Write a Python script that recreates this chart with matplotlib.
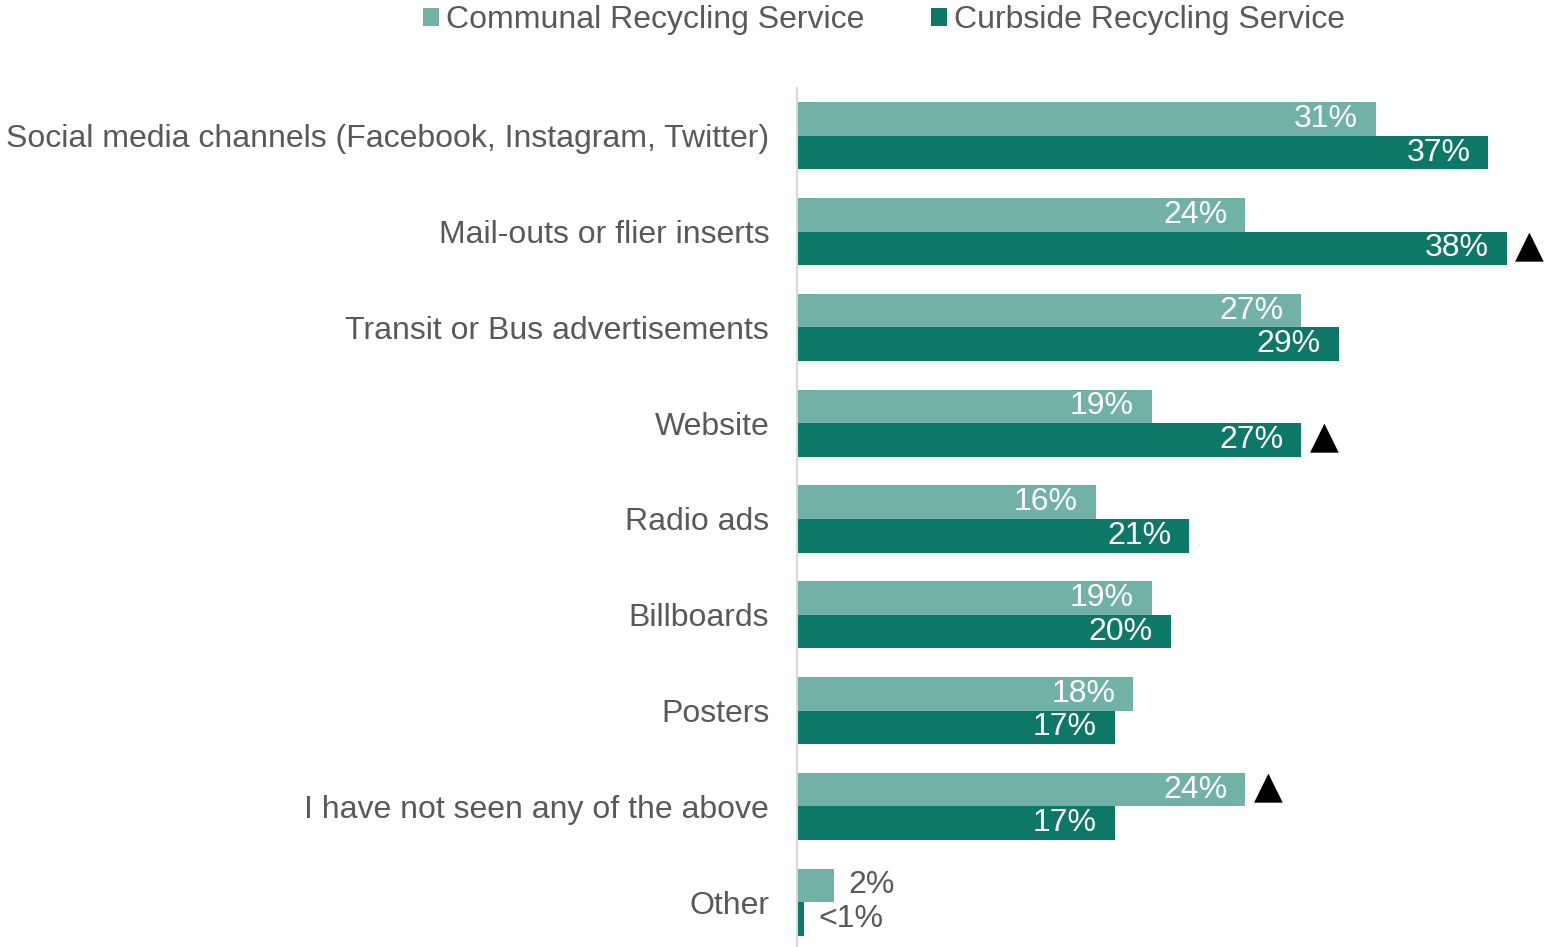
import matplotlib
matplotlib.use("Agg")
import matplotlib.pyplot as plt
from matplotlib.patches import Patch

plt.rcParams['font.family'] = ['Liberation Sans', 'DejaVu Sans']

categories = [
    "Social media channels (Facebook, Instagram, Twitter)",
    "Mail-outs or flier inserts",
    "Transit or Bus advertisements",
    "Website",
    "Radio ads",
    "Billboards",
    "Posters",
    "I have not seen any of the above",
    "Other",
]
communal = [31, 24, 27, 19, 16, 19, 18, 24, 2]
curbside = [37, 38, 29, 27, 21, 20, 17, 17, 0.4]
communal_labels = ["31%", "24%", "27%", "19%", "16%", "19%", "18%", "24%", "2%"]
curbside_labels = ["37%", "38%", "29%", "27%", "21%", "20%", "17%", "17%", "<1%"]
# significant differences flagged with a triangle: (category index, series)
flags = [(1, "curbside"), (3, "curbside"), (7, "communal")]
series_names = ["Communal Recycling Service", "Curbside Recycling Service"]

LIGHT = "#72B1A6"
DARK = "#0E7868"
GREY = "#595959"

fig = plt.figure(figsize=(15.5, 9.47), dpi=100)
ax = fig.add_axes([797 / 1550, -3 / 947, 753 / 1550, 862 / 947])

h = 0.35
ys = list(range(len(categories)))
y_comm = [y - h / 2 for y in ys]
y_curb = [y + h / 2 for y in ys]
ax.barh(y_comm, communal, height=h, color=LIGHT, edgecolor="none")
ax.barh(y_curb, curbside, height=h, color=DARK, edgecolor="none")

ax.set_xlim(0, 40.3)
ax.set_ylim(8.5, -0.5)

fs = 23
for vals, labs, ypos in ((communal, communal_labels, y_comm),
                         (curbside, curbside_labels, y_curb)):
    for v, lab, y in zip(vals, labs, ypos):
        if v >= 5:
            ax.annotate(lab, (v, y), xytext=(-13, 0), textcoords="offset points",
                        ha="right", va="center", color="white", fontsize=fs)
        else:
            ax.annotate(lab, (v, y), xytext=(10, 0), textcoords="offset points",
                        ha="left", va="center", color=GREY, fontsize=fs)

for idx, ser in flags:
    v = curbside[idx] if ser == "curbside" else communal[idx]
    y = y_curb[idx] if ser == "curbside" else y_comm[idx]
    ax.annotate("\u25B2", (v, y), xytext=(6, 1), textcoords="offset points",
                ha="left", va="center", color="black", fontsize=27,
                family="DejaVu Sans")

ax.set_yticks(ys)
ax.set_yticklabels(categories, fontsize=fs, color=GREY)
ax.tick_params(axis="y", length=0, pad=20)
ax.set_xticks([])
for s in ("top", "right", "bottom"):
    ax.spines[s].set_visible(False)
ax.spines["left"].set_color("#D9D9D9")
ax.spines["left"].set_linewidth(1.5)

handles = [Patch(facecolor=LIGHT, edgecolor="none"),
           Patch(facecolor=DARK, edgecolor="none")]
fig.legend(handles, series_names, loc="center", bbox_to_anchor=(884 / 1550, 1 - 20 / 947),
           ncol=2, frameon=False, fontsize=fs, labelcolor=GREY,
           handlelength=0.5, handleheight=0.5, handletextpad=0.22, columnspacing=2.1)

fig.savefig("out.png", dpi=100)
